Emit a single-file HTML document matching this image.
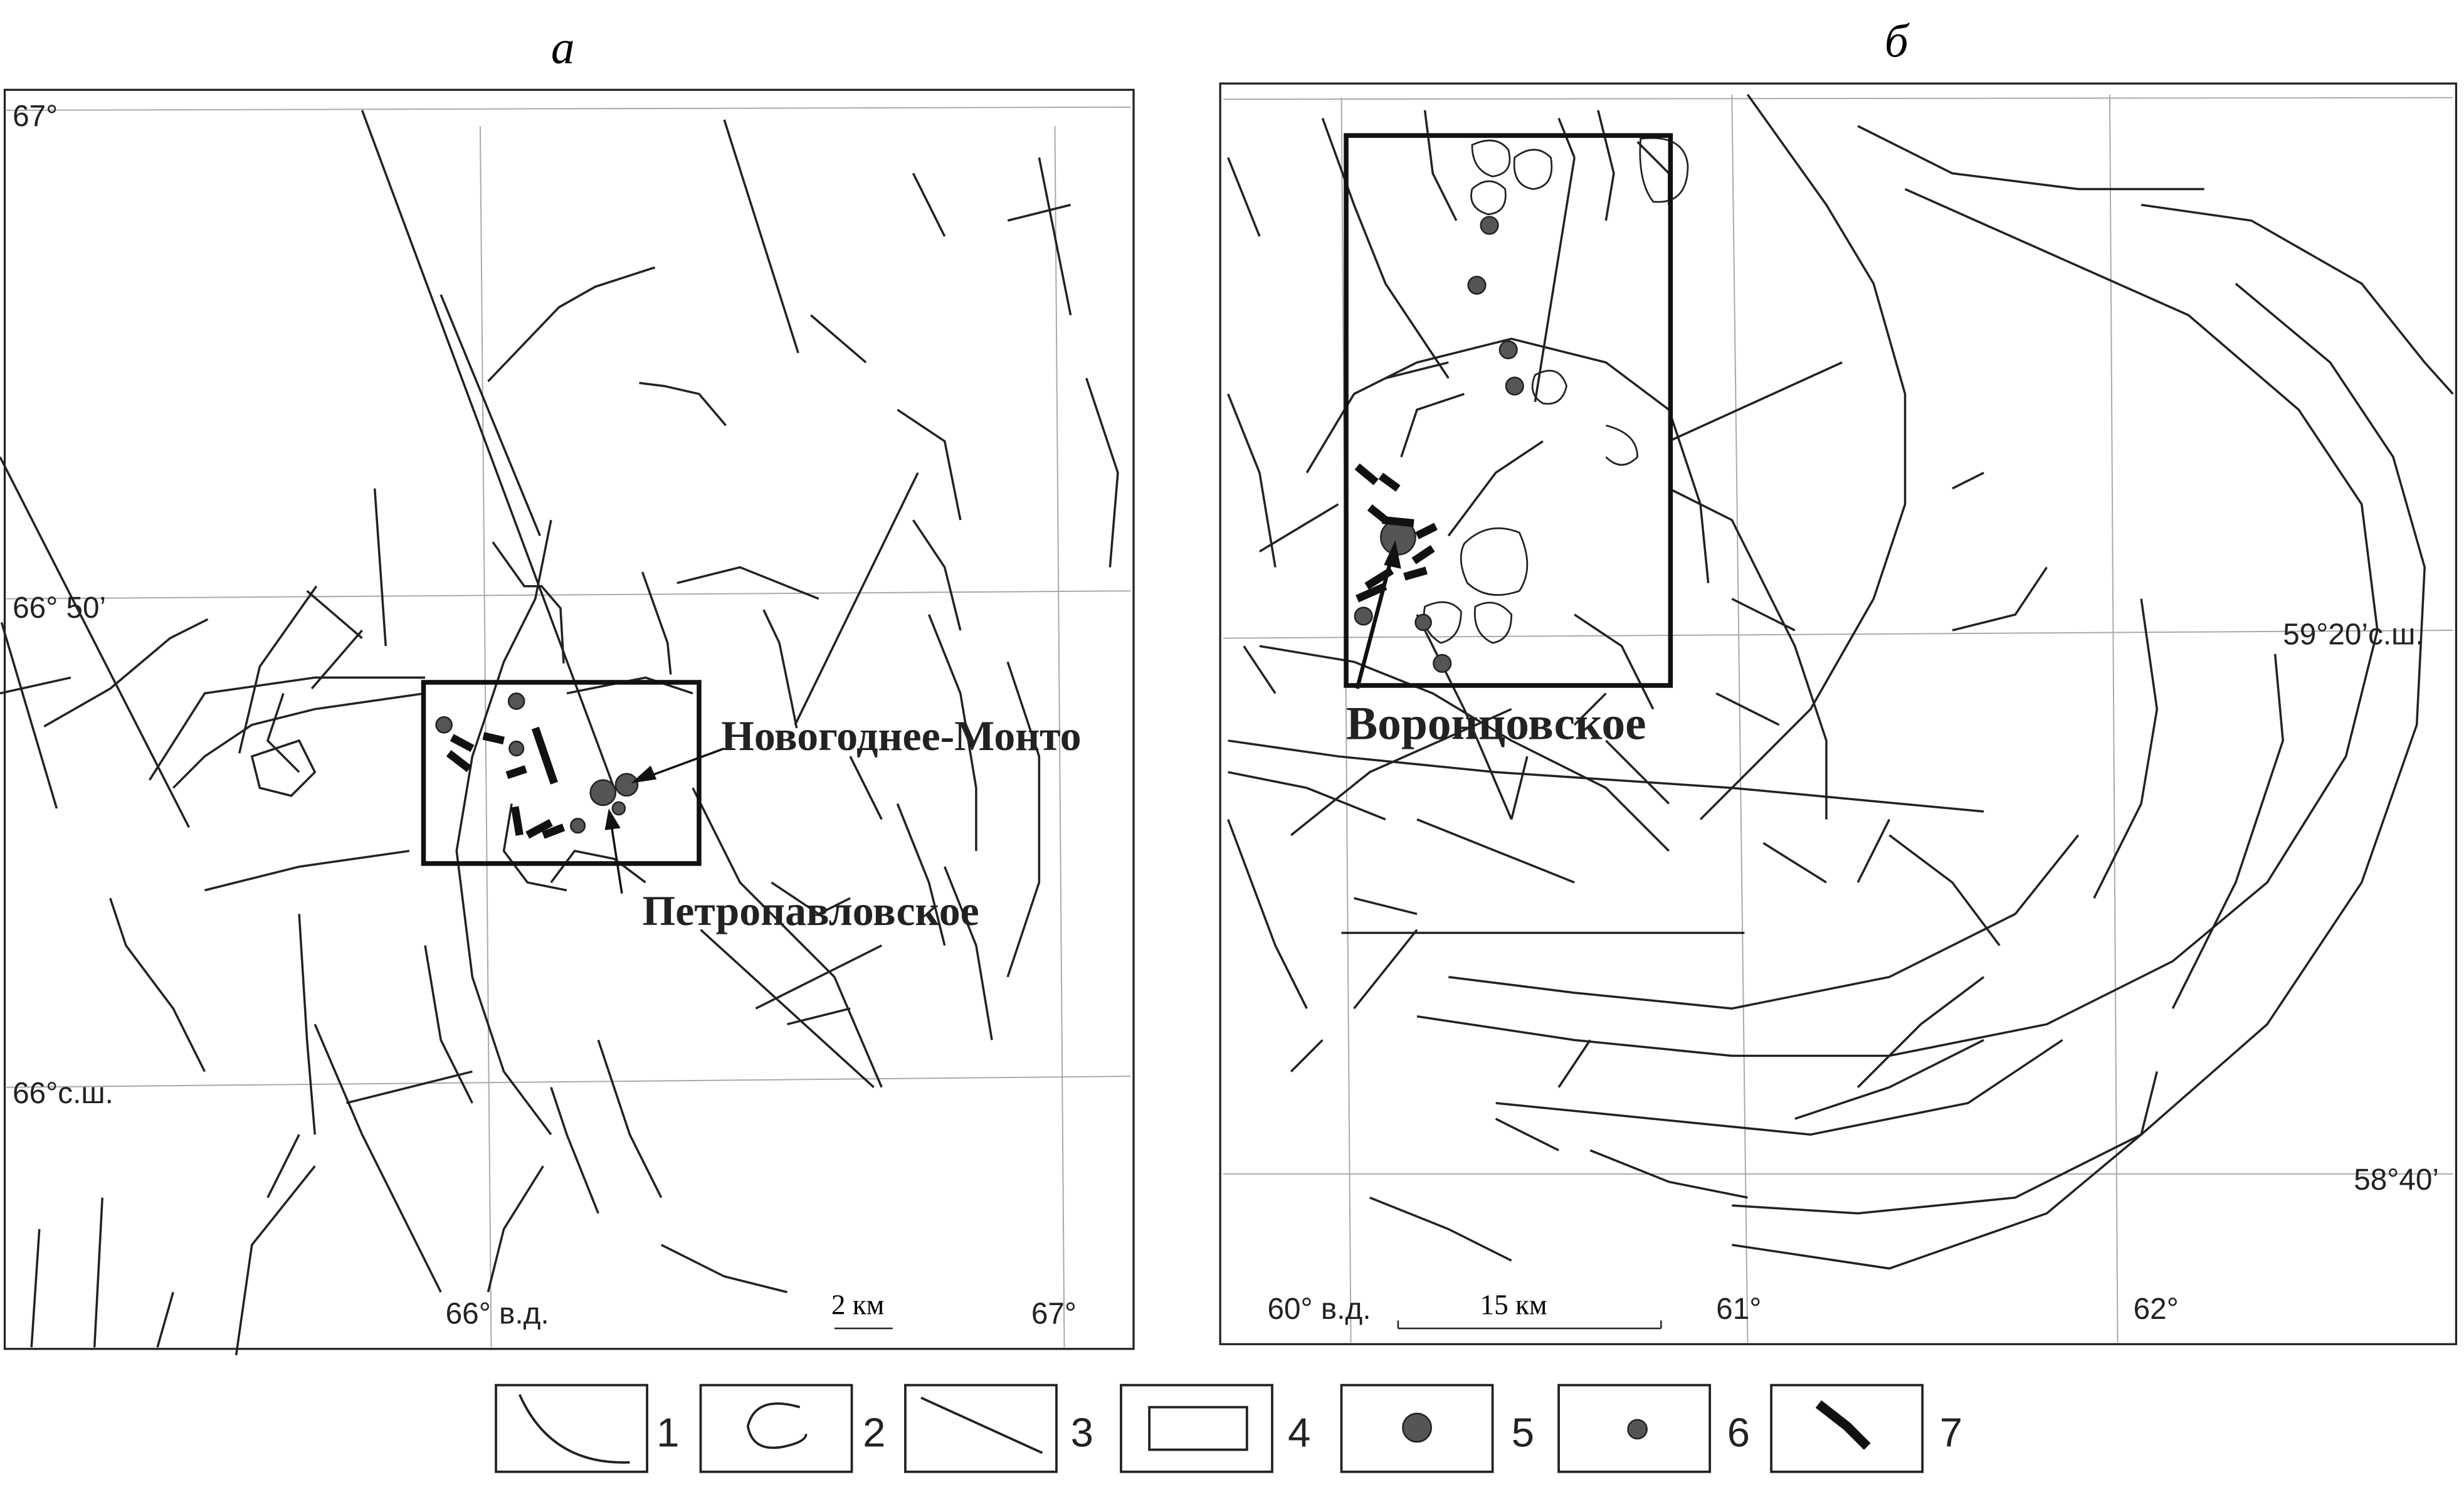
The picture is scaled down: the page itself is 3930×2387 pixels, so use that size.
<!DOCTYPE html>
<html><head><meta charset="utf-8"><style>
html,body{margin:0;padding:0;background:#fff}
svg{display:block}
text{font-family:"Liberation Sans",sans-serif}
.s{font-family:"Liberation Serif","Noto Serif CJK SC",serif}
</style></head><body>
<svg width="3930" height="2387" viewBox="0 0 1565 950" preserveAspectRatio="none" xmlns="http://www.w3.org/2000/svg">
<g fill="none" stroke="#aaa" stroke-width="0.8">
<path d="M4 70 L718 68"/><path d="M305 80 L312 855"/><path d="M670 80 L676 855"/>
<path d="M4 380 L718 375"/><path d="M4 690 L718 683"/>
<path d="M777 63 L1558 62"/><path d="M852 62 L858 852"/><path d="M1100 60 L1110 852"/><path d="M1340 60 L1345 852"/>
<path d="M777 405 L1558 400"/><path d="M777 745 L1558 745"/>
</g>
<text x="350" y="40" font-size="30" class="s" font-style="italic">a</text>
<text x="1197" y="36" font-size="30" class="s" font-style="italic">б</text>
<rect x="3" y="57" width="717" height="799" fill="none" stroke="#222" stroke-width="1.3"/>
<rect x="775" y="53" width="785" height="800" fill="none" stroke="#222" stroke-width="1.3"/>
<g font-size="19" fill="#222">
<text x="8" y="80" fill="#222">67°</text>
<text x="8" y="392">66° 50’</text>
<text x="8" y="700">66°с.ш.</text>
<text x="283" y="840">66° в.д.</text>
<text x="655" y="840">67°</text>
<text x="805" y="837">60° в.д.</text>
<text x="1090" y="837">61°</text>
<text x="1355" y="837">62°</text>
<text x="1450" y="409">59°20’с.ш.</text>
<text x="1495" y="755">58°40’</text>
</g>
<g fill="none" stroke="#222" stroke-width="1.4">
<path d="M230 70 L390 500"/><path d="M280 187 L343 340"/><path d="M310 242 L355 195 L378 182 L415 170 L416 170"/><path d="M406 243 L422 245 L444 250 L461 270"/>
<path d="M460 76 L507 224"/><path d="M515 200 L550 230"/><path d="M1 395 L36 513"/><path d="M28 461 L70 437 L108 405 L132 393"/>
<path d="M152 478 L165 423 L201 372"/><path d="M198 437 L230 400"/>
<path d="M313 344 L333 372 L344 372 L356 386 L358 421"/><path d="M408 363 L424 408 L426 428"/>
<path d="M485 387 L495 408 L503 447 L506 462"/><path d="M583 300 L505 460"/>
<path d="M0 290 L120 525"/><path d="M0 440 L45 430"/><path d="M110 500 L130 480 L160 460 L200 450 L270 440"/>
<path d="M238 310 L245 410"/><path d="M195 375 L230 405"/><path d="M360 440 L410 430 L440 440"/>
<path d="M130 565 L190 550 L260 540"/><path d="M190 490 L170 470 L180 440"/>
<path d="M440 500 L470 560 L530 620 L560 690"/><path d="M445 590 L555 690"/><path d="M430 370 L470 360 L520 380"/>
<path d="M590 390 L610 440 L620 500 L620 540"/><path d="M580 330 L600 360 L610 400"/>
<path d="M640 420 L660 480 L660 560 L640 620"/><path d="M600 550 L620 600 L630 660"/>
<path d="M350 330 L340 380 L320 420 L300 480 L290 540 L300 620 L320 680 L350 720"/>
<path d="M270 600 L280 660 L300 700"/><path d="M200 650 L230 720 L260 780 L280 820"/>
<path d="M70 570 L80 600 L110 640 L130 680"/><path d="M190 580 L195 660 L200 720"/>
<path d="M220 700 L260 690 L300 680"/><path d="M170 760 L190 720"/><path d="M150 860 L160 790 L200 740"/>
<path d="M20 855 L25 780"/><path d="M60 855 L65 760"/><path d="M100 855 L110 820"/>
<path d="M380 660 L400 720 L420 760"/><path d="M480 640 L520 620 L560 600"/><path d="M500 650 L540 640"/>
<path d="M310 820 L320 780 L345 740"/><path d="M350 690 L360 720 L380 770"/><path d="M420 790 L460 810 L500 820"/>
<path d="M570 510 L590 560 L600 600"/><path d="M540 480 L560 520"/><path d="M490 560 L520 580 L540 570"/>
<path d="M660 100 L670 150 L680 200"/><path d="M580 110 L600 150"/><path d="M640 140 L680 130"/>
<path d="M690 240 L710 300 L705 360"/><path d="M570 260 L600 280 L610 330"/>
<path d="M350 560 L365 540 L390 545 L410 560"/><path d="M325 510 L320 540 L335 560 L360 565"/>
<path d="M160 480 L190 470 L200 490 L185 505 L165 500 Z"/>
<path d="M95 495 L130 440 L200 430 L270 430"/>
<path d="M840 75 L860 130 L880 180 L920 240"/><path d="M780 250 L800 300 L810 360"/><path d="M780 100 L800 150"/>
<path d="M830 300 L860 250 L900 230 L960 215 L1020 230 L1060 260 L1080 320 L1085 370"/>
<path d="M800 410 L860 420 L910 440 L960 470 L1020 500 L1060 540"/>
<path d="M780 470 L850 480 L950 490 L1100 500 L1260 515"/>
<path d="M780 490 L830 500 L880 520"/><path d="M820 530 L870 490 L960 450"/><path d="M1060 280 L1170 230"/>
<path d="M1060 310 L1100 330 L1120 370 L1140 410 L1160 470 L1160 520"/>
<path d="M1110 60 L1160 130 L1190 180 L1210 250 L1210 320 L1190 380 L1150 450 L1080 520"/>
<path d="M1180 80 L1240 110 L1320 120 L1400 120"/><path d="M1360 130 L1430 140 L1500 180 L1540 230 L1558 250"/>
<path d="M1210 120 L1300 160 L1390 200 L1460 260 L1500 320 L1510 400 L1490 480 L1440 560 L1380 610 L1300 650 L1200 670 L1100 670 L1000 660 L900 645"/>
<path d="M1420 180 L1480 230 L1520 290 L1540 360 L1535 460 L1500 560 L1440 650 L1360 720 L1280 760 L1180 770 L1100 765"/>
<path d="M1445 415 L1450 470 L1420 560 L1380 640"/><path d="M1360 380 L1370 450 L1360 510 L1330 570"/>
<path d="M1240 400 L1280 390 L1300 360"/><path d="M1240 310 L1260 300"/>
<path d="M1200 530 L1240 560 L1270 600"/><path d="M1120 535 L1160 560"/><path d="M900 520 L950 540 L1000 560"/>
<path d="M860 570 L900 580"/><path d="M852 592 L1108 592"/>
<path d="M780 520 L810 600 L830 640"/><path d="M860 640 L900 590"/><path d="M840 660 L820 680"/>
<path d="M920 620 L1000 630 L1100 640 L1200 620 L1280 580 L1320 530"/>
<path d="M950 700 L1050 710 L1150 720 L1250 700 L1310 660"/><path d="M990 690 L1010 660"/>
<path d="M1010 730 L1060 750 L1110 760"/><path d="M870 760 L920 780 L960 800"/><path d="M950 710 L990 730"/>
<path d="M1140 710 L1200 690 L1260 660"/><path d="M1100 790 L1200 805 L1300 770 L1360 720 L1370 680"/>
<path d="M1180 690 L1220 650 L1260 620"/><path d="M1180 560 L1200 520"/>
<path d="M960 520 L970 480"/><path d="M1000 390 L1030 410 L1050 450"/><path d="M1000 460 L1020 440"/>
<path d="M900 390 L930 450 L960 520"/><path d="M790 410 L810 440"/><path d="M800 350 L850 320"/>
<path d="M920 340 L950 300 L980 280"/><path d="M890 290 L900 260 L930 250"/><path d="M880 240 L920 230"/>
<path d="M1020 470 L1060 510"/><path d="M1100 380 L1140 400"/><path d="M1090 440 L1130 460"/>
<path d="M905 70 L910 110 L925 140"/><path d="M990 75 L1000 100"/><path d="M1015 70 L1025 110 L1020 140"/>
<path d="M1000 100 L975 255"/><path d="M1040 90 L1060 110 L1060 130"/>
</g>
<g fill="none" stroke="#222" stroke-width="1.1">
<path d="M935 92 Q950 85 958 95 Q962 110 948 112 Q935 108 935 92Z"/>
<path d="M962 100 Q975 90 985 100 Q988 118 974 120 Q960 118 962 100Z"/>
<path d="M935 120 Q946 110 956 120 Q958 135 945 136 Q932 132 935 120Z"/>
<path d="M1042 88 Q1070 85 1072 105 Q1072 130 1050 128 Q1040 115 1042 88Z"/>
<path d="M975 238 Q990 230 995 245 Q992 258 980 256 Q970 250 975 238Z"/>
<path d="M1020 270 Q1040 275 1040 290 Q1030 300 1020 290"/>
<path d="M930 345 Q945 330 965 338 Q975 360 965 375 Q945 382 932 370 Q925 355 930 345Z"/>
<path d="M905 385 Q920 378 928 388 Q928 405 915 408 Q902 400 905 385Z"/>
<path d="M937 385 Q950 378 960 390 Q960 406 948 408 Q935 402 937 385Z"/>
</g>
<rect x="269" y="433" width="175" height="115" fill="none" stroke="#111" stroke-width="3"/>
<rect x="855" y="86" width="206" height="349" fill="none" stroke="#111" stroke-width="3"/>
<g fill="#555" stroke="#222" stroke-width="1">
<circle cx="383" cy="503" r="8"/><circle cx="398" cy="498" r="7"/>
<circle cx="888" cy="341" r="11"/>
<circle cx="328" cy="445" r="5"/><circle cx="282" cy="460" r="5"/><circle cx="328" cy="475" r="4.5"/><circle cx="367" cy="524" r="4.5"/><circle cx="393" cy="513" r="4"/>
<circle cx="946" cy="143" r="5.5"/><circle cx="938" cy="181" r="5.5"/><circle cx="958" cy="222" r="5.5"/><circle cx="962" cy="245" r="5.5"/><circle cx="866" cy="391" r="5.5"/><circle cx="904" cy="395" r="5"/><circle cx="916" cy="421" r="5.5"/>
</g>
<g stroke="#111" stroke-width="5" fill="none">
<path d="M340 462 L352 497"/><path d="M287 468 L300 475"/><path d="M285 478 L298 488"/><path d="M307 467 L320 470"/><path d="M327 512 L330 530"/><path d="M335 530 L350 522"/><path d="M345 530 L358 525"/><path d="M322 492 L334 488"/>
<path d="M862 296 L874 306"/><path d="M877 302 L888 310"/><path d="M870 322 L880 330"/><path d="M900 340 L912 334"/><path d="M898 356 L910 348"/><path d="M892 366 L906 362"/><path d="M868 372 L884 362"/><path d="M862 380 L880 372"/><path d="M878 330 L898 332"/>
</g>
<g stroke="#111" stroke-width="1.4" fill="#111">
<path d="M460 475 L403 496" fill="none"/><path d="M403 496 L413 487 L416 494Z"/>
<path d="M395 567 L387 515" fill="none"/><path d="M387 515 L393 525 L385 526Z"/>
<path d="M862 437 L884 353" fill="none" stroke-width="2.5"/><path d="M886 345 L889 360 L880 358Z"/>
</g>
<g font-weight="bold" fill="#222">
<text x="458" y="476" class="s" font-size="27">Новогоднее-Монто</text>
<text x="408" y="587" class="s" font-size="27">Петропавловское</text>
<text x="855" y="469" class="s" font-size="30">Воронцовское</text>
</g>
<text x="528" y="834" font-size="18" class="s">2 км</text><path d="M530 843 L567 843" stroke="#222"/>
<text x="940" y="834" font-size="18" class="s">15 км</text><path d="M888 843 L1055 843 M888 838 L888 843 M1055 838 L1055 843" stroke="#222" fill="none"/>
<g fill="none" stroke="#222" stroke-width="1.5">
<rect x="315" y="879" width="96" height="55"/><rect x="445" y="879" width="96" height="55"/><rect x="575" y="879" width="96" height="55"/>
<rect x="712" y="879" width="96" height="55"/><rect x="852" y="879" width="96" height="55"/><rect x="990" y="879" width="96" height="55"/><rect x="1125" y="879" width="96" height="55"/>
<path d="M330 885 Q350 930 400 928"/><path d="M508 893 Q480 885 475 905 Q478 922 498 918 Q512 915 512 910"/>
<path d="M585 887 L662 922"/><rect x="730" y="893" width="62" height="27"/>
<path d="M1155 891 L1173 905 L1186 918" stroke-width="6" stroke="#111"/>
</g>
<circle cx="900" cy="906" r="9" fill="#555" stroke="#222"/><circle cx="1040" cy="907" r="6" fill="#555" stroke="#222"/>
<g font-size="26" fill="#222">
<text x="417" y="918">1</text><text x="548" y="918">2</text><text x="680" y="918">3</text><text x="818" y="918">4</text><text x="960" y="918">5</text><text x="1097" y="918">6</text><text x="1232" y="918">7</text>
</g>
</svg>
</body></html>
